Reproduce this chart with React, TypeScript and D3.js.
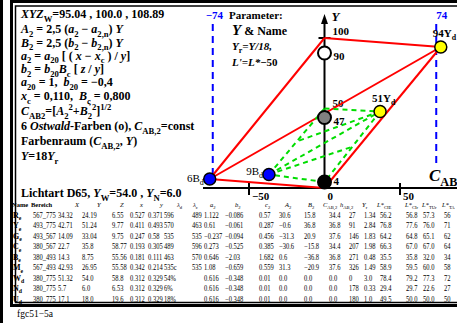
import * as d3 from "d3";

// ---- data ----------------------------------------------------------
const leftLines = [
  "|XYZ|_{W}=95.04 , 100.0 , 108.89",
  "|A|_{2} = 2,5 (|a|_{2} − |a|_{2,n}) |Y|",
  "|B|_{2} = 2,5 (|b|_{2} − |b|_{2,n}) |Y|",
  "|a|_{2} = |a|_{20} [ ( |x| − |x|_{c} ) / |y|]",
  "|b|_{2} = |b|_{20}|B|_{c} [ |z| / |y|]",
  "|a|_{20} = 1,  |b|_{20} = −0,4",
  "|x|_{c} = 0,110,  |B|_{ς} = 0,800",
  "|C|_{AB2}=[|A|_{2}^{2}+|B|_{2}^{2}]^{1/2}",
  "6 |Ostwald|-Farben (o), |C|_{AB,2}=const",
  "Farbenraum (|C|_{AB,2}, |Y|)",
  "|Y|=18|Y|_{r}",
  "Lichtart D65, |Y|_{W}=54.0 , |Y|_{N}=6.0",
];
const leftBaselines = [18, 33, 46.5, 59.5, 73, 86, 100, 115, 130, 145, 160, 197];

// chromatic points
const ptValue = ["94", "51", "6", "9"];
const ptName = ["Y", "Y", "B", "B"];
const ptC = [77, 36.8, -76, -36.8];
const ptY = [94, 51, 6, 9];
const ptFill = ["#ffff00", "#ffff00", "#0000ff", "#0000ff"];

// achromatic points on the Y axis
const greyY = [90, 47, 4];
const greyFill = ["#ffffff", "#808080", "#000000"];
const ostwaldTopY = 53; // upper corner of the green Ostwald figure on the Y axis

// red hull: [C, Y] pairs
const redFrom = [[-76, 6], [0, 100], [-76, 6], [-76, 6], [0, 0]];
const redTo = [[0, 100], [77, 94], [77, 94], [0, 0], [77, 94]];

// green dashed: named ends
const greenFrom = ["9B", "P", "51Y", "4", "9B", "9B", "51Y"];
const greenTo = ["P", "51Y", "4", "9B", "51Y", "m51Y4", "m9BP"];

const cTickLabels = [-50, 0, 50];
const yTickLabels = [50, 100];
const limits = [-74, 74];

const headers = ["Name", "Bereich", "|X|", "|Y|", "|Z|", "|x|", "|y|", "|λ|_{d}", "|λ|_{c}", "|a|_{2}", "|b|_{2}", "|c|_{2}", "|A|_{2}", "|B|_{2}", "|C|_{AB,2}", "|h|_{AB,2}", "|Y|_{r}", "|L*|_{CIE}", "|L*|_{CIr}", "|L*|_{TUr}", "|L*|_{TA}"];
const rowNames = ["R", "Y", "G", "C", "B", "M", "W", "N", "U"];
const rowSubs = ["e", "e", "e", "e", "e", "e", "d", "d", "d"];
const rowR = ["567_775", "34.32", "24.19", "6.55", "0.527", "0.371", "596", "489", "1.122", "−0.086", "0.57", "30.6", "15.8", "34.4", "27", "1.34", "56.2", "56.8", "57.3", "56"];
const rowY = ["493_775", "42.71", "51.24", "9.77", "0.411", "0.493", "570", "463", "0.61", "−0.061", "0.287", "−0.6", "36.8", "36.8", "91", "2.84", "76.8", "77.6", "76.0", "71"];
const rowG = ["493_567", "14.09", "33.04", "9.75", "0.247", "0.58", "535", "535", "−0.237", "−0.094", "0.456", "−31.3", "20.9", "37.6", "146", "1.83", "64.2", "64.8", "65.1", "62"];
const rowC = ["380_567", "22.7", "35.8", "58.77", "0.193", "0.305", "489", "596", "0.273", "−0.525", "0.385", "−30.6", "−15.8", "34.4", "207", "1.98", "66.3", "67.0", "67.0", "64"];
const rowB = ["380_493", "14.3", "8.75", "55.56", "0.181", "0.111", "463", "570", "0.646", "−2.03", "1.682", "0.6", "−36.8", "36.8", "271", "0.48", "35.5", "35.8", "32.0", "34"];
const rowM = ["567_493", "42.93", "26.95", "55.58", "0.342", "0.214", "535c", "535", "1.08", "−0.659", "0.559", "31.3", "−20.9", "37.6", "326", "1.49", "58.9", "59.5", "60.0", "58"];
const rowW = ["380_775", "51.32", "54.0", "58.8", "0.312", "0.329", "54%", "", "0.616", "−0.348", "0.01", "0.0", "0.0", "0.0", "0", "3.0", "78.4", "79.2", "77.3", "72"];
const rowN = ["380_775", "5.7", "6.0", "6.53", "0.312", "0.329", "6%", "", "0.616", "−0.348", "0.01", "0.0", "0.0", "0.0", "178", "0.33", "29.4", "29.7", "22.6", "27"];
const rowU = ["380_775", "17.1", "18.0", "19.6", "0.312", "0.329", "18%", "", "0.616", "−0.348", "0.01", "0.0", "0.0", "0.0", "180", "1.0", "49.5", "50.0", "50.0", "50"];
const tableRows = [rowR, rowY, rowG, rowC, rowB, rowM, rowW, rowN, rowU];

// ---- layout --------------------------------------------------------
const W = 457, H = 323;
const FONT = "'Liberation Serif', 'Times New Roman', serif";
const headerX = [12, 31, 75, 97, 120, 140, 160, 177, 193, 210, 235, 265, 285, 308, 323, 340, 362, 377, 405, 422, 442];
const colX = [33, 58, 82, 112, 130, 148, 164, 192, 204, 225, 259, 279, 304, 329, 349, 364, 380, 406, 423, 444];

// small rich-text helper: |...| toggles italic, _{..} sub, ^{..} sup
function Rich({ x, y, text, size = 11, weight = "bold", fill = "#000", anchor = "start" }: any) {
  const tokens = text.split(/(_\{[^}]*\}|\^\{[^}]*\}|\|)/).filter((t: string) => t !== "");
  let italic = false;
  let cur = 0;
  const out: any[] = [];
  tokens.forEach((t: string, i: number) => {
    if (t === "|") { italic = !italic; return; }
    let target = 0, fs = size, s = t;
    if (t.startsWith("_{")) { target = size * 0.3; fs = size * 0.72; s = t.slice(2, -1); }
    else if (t.startsWith("^{")) { target = -size * 0.4; fs = size * 0.72; s = t.slice(2, -1); }
    out.push(
      <tspan key={i} dy={target - cur} fontSize={fs} fontStyle={italic ? "italic" : "normal"}>{s}</tspan>
    );
    cur = target;
  });
  return (
    <text x={x} y={y} fontSize={size} fontWeight={weight} fill={fill} textAnchor={anchor}
      fontFamily={FONT} style={{ whiteSpace: "pre" }}>{out}</text>
  );
}

export default function App() {
  const x = d3.scaleLinear().domain([-50, 50]).range([249, 400]);
  const y = d3.scaleLinear().domain([0, 100]).range([188, 38]);

  const named: Record<string, [number, number]> = {
    "9B": [x(ptC[3]), y(ptY[3])],
    "51Y": [x(ptC[1]), y(ptY[1])],
    "P": [x(0), y(ostwaldTopY)],
    "4": [x(0), y(greyY[2])],
  };
  const mid = (a: [number, number], b: [number, number]): [number, number] => [(a[0] + b[0]) / 2, (a[1] + b[1]) / 2];
  named["m51Y4"] = mid(named["51Y"], named["4"]);
  named["m9BP"] = mid(named["9B"], named["P"]);

  const line = d3.line();
  const rowY0 = 218, rowStep = 10.44;

  return (
    <svg width={W} height={H} style={{ display: "block", position: "absolute", left: 0, top: 0 }}>
      <rect width={W} height={H} fill="#fff" />
      {/* frame */}
      <rect x={0} y={0} width={3} height={H} fill="#000" />
      <rect x={11.5} y={1.5} width={470} height={304} fill="none" stroke="#000" strokeWidth={3} />
      <rect x={15.5} y={6} width={470} height={296.5} fill="none" stroke="#000" strokeWidth={1.5} />

      {/* left formula block */}
      {leftLines.map((t, i) => (
        <Rich key={i} x={21} y={leftBaselines[i]} text={t} size={12} />
      ))}

      {/* parameter block */}
      <Rich x={229} y={19} text="Parameter:" size={11} />
      <text x={232} y={35} fontFamily={FONT} fontWeight="bold">
        <tspan fontSize={15} fontStyle="italic">Y</tspan>
        <tspan fontSize={12}> &amp; Name</tspan>
      </text>
      <Rich x={232} y={50} text="|Y|_{r}|=Y/18,|" size={11} />
      <Rich x={232} y={66} text="|L'=L*|−50" size={11} />

      {/* blue limit lines */}
      {limits.map((v, i) => (
        <g key={i}>
          <line x1={x(v)} x2={x(v)} y1={24} y2={i === 0 ? 180 : 166} stroke="#0000ff" strokeWidth={2} strokeDasharray="7,5" />
          <text x={x(v) + (v < 0 ? -7 : 0)} y={19} fontFamily={FONT} fontWeight="bold" fontSize={11} fill="#0000ff">
            {v < 0 ? "−" + Math.abs(v) : String(v)}
          </text>
        </g>
      ))}

      {/* axes */}
      <line x1={203} x2={W} y1={y(0)} y2={y(0)} stroke="#000" strokeWidth={2} />
      <line x1={x(0)} x2={x(0)} y1={y(0)} y2={22} stroke="#000" strokeWidth={2} />
      <path d={`M${x(0)},14 L${x(0) - 3.5},24 L${x(0) + 3.5},24 Z`} fill="#000" />
      <Rich x={x(0) + 7} y={21} text="|Y|" size={13} />
      {cTickLabels.map((v, i) => (
        <g key={i}>
          {v !== 0 && <line x1={x(v)} x2={x(v)} y1={y(0) - 5} y2={y(0) + 7} stroke="#000" strokeWidth={2} />}
          <text x={x(v) + 3} y={200} fontFamily={FONT} fontWeight="bold" fontSize={11}>
            {v < 0 ? "−" + Math.abs(v) : String(v)}
          </text>
        </g>
      ))}
      {yTickLabels.map((v, i) => (
        <g key={i}>
          {v === 100 && <line x1={x(0) - 6} x2={x(0) + 6} y1={y(v)} y2={y(v)} stroke="#000" strokeWidth={2} />}
          <text x={x(0) + 8} y={y(v) - (v === 100 ? 3 : 6)} fontFamily={FONT} fontWeight="bold" fontSize={11}>{v}</text>
        </g>
      ))}
      <Rich x={429} y={181} text="|C|_{AB,2}" size={17} />

      {/* red hull */}
      {redFrom.map((a, i) => (
        <path key={i} d={line([[x(a[0]), y(a[1])], [x(redTo[i][0]), y(redTo[i][1])]]) || ""}
          stroke="#ff0000" strokeWidth={2} fill="none" />
      ))}

      {/* green dashed */}
      {greenFrom.map((a, i) => (
        <path key={i} d={line([named[a], named[greenTo[i]]]) || ""}
          stroke="#00dd00" strokeWidth={2} strokeDasharray="5,4" fill="none" />
      ))}

      {/* achromatic points */}
      {greyY.map((v, i) => (
        <g key={i}>
          <circle cx={x(0)} cy={y(v)} r={6.5} fill={greyFill[i]} stroke="#000" strokeWidth={2} />
          <text x={x(0) + 9} y={Math.min(y(v) + 7, 185)} fontFamily={FONT} fontWeight="bold" fontSize={11}>{v}</text>
        </g>
      ))}

      {/* chromatic points */}
      {ptC.map((c, i) => {
        const cx = x(c), cy = y(ptY[i]);
        const left = c < 0;
        return (
          <g key={i}>
            <circle cx={cx} cy={cy} r={6} fill={ptFill[i]} stroke="#000" strokeWidth={1.5} />
            <Rich x={left ? cx - 6 : cx - 8} y={left ? cy + (i === 2 ? 3 : 0) : cy - 10}
              text={ptValue[i] + ptName[i] + "_{d}"} size={11} weight={left ? "normal" : "bold"}
              anchor={left ? "end" : "start"} />
          </g>
        );
      })}

      {/* table */}
      {headers.map((h, i) => (
        <Rich key={i} x={headerX[i]} y={207} text={h} size={6.5} weight={i < 2 ? "bold" : "normal"} />
      ))}
      {tableRows.map((row, r) => (
        <g key={r}>
          <Rich x={13} y={rowY0 + r * rowStep} text={rowNames[r] + "_{" + rowSubs[r] + "}"} size={8} />
          {row.map((v, c) => (
            <text key={c} transform={`translate(${colX[c]},${rowY0 + r * rowStep}) scale(0.88,1)`}
              fontFamily={FONT} fontSize={7.4}>{v}</text>
          ))}
        </g>
      ))}

      <text x={17} y={317} fontFamily={FONT} fontSize={9.5}>fgc51−5a</text>
    </svg>
  );
}
